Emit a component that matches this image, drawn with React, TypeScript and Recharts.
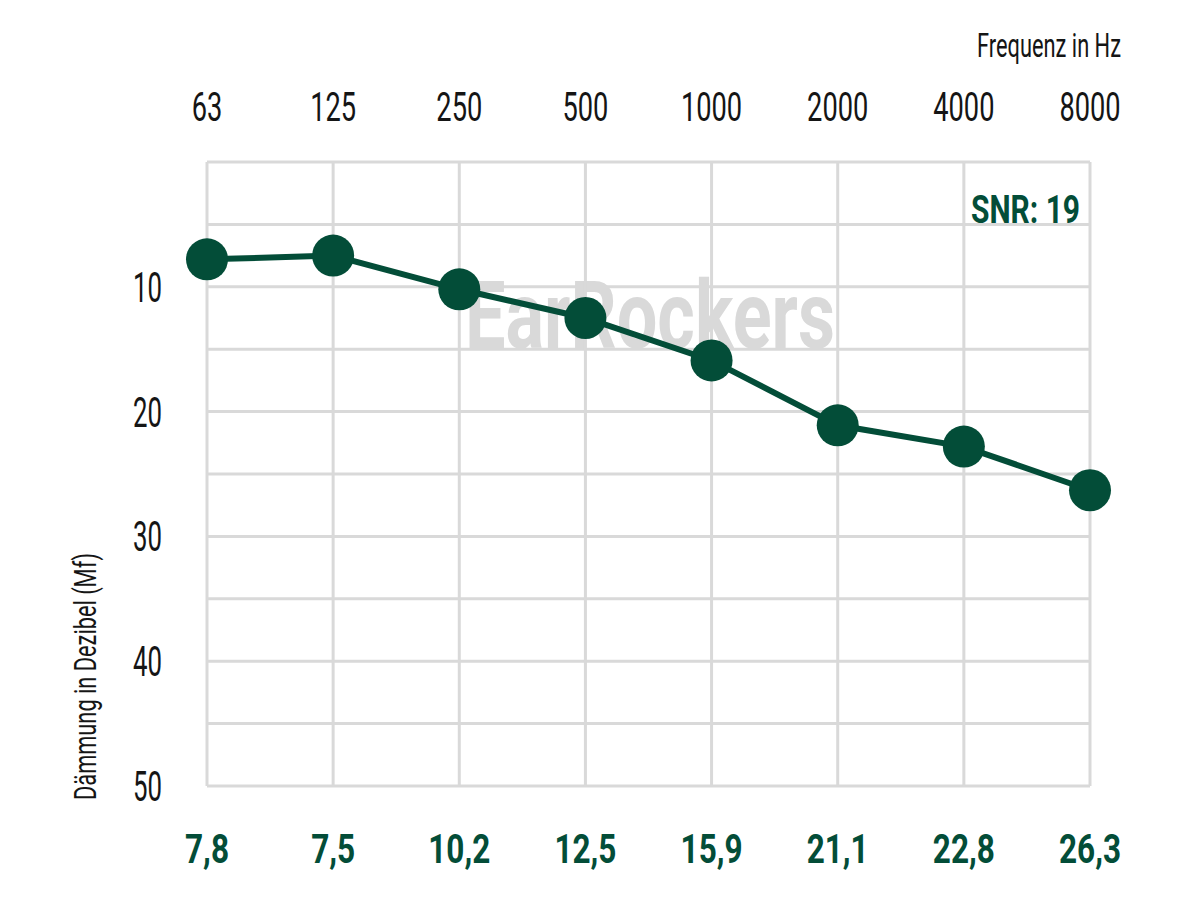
import React from 'react';
import { LineChart, Line, XAxis, YAxis, CartesianGrid } from 'recharts';

const frequencies = ['63', '125', '250', '500', '1000', '2000', '4000', '8000'];
const attenuation = [7.8, 7.5, 10.2, 12.5, 15.9, 21.1, 22.8, 26.3];
const attenuationLabels = ['7,8', '7,5', '10,2', '12,5', '15,9', '21,1', '22,8', '26,3'];
const yTicks = [0, 5, 10, 15, 20, 25, 30, 35, 40, 45, 50];
const yTickLabels: Record<number, string> = { 10: '10', 20: '20', 30: '30', 40: '40', 50: '50' };

const data = frequencies.map((f, i) => ({ freq: f, value: attenuation[i] }));

const GREEN = '#034d38';
const INK = '#151515';
const FONT = "Roboto, 'Noto Sans', sans-serif";

const labelWidth = (s: string, digit: number, comma: number) =>
  s.split('').reduce((w, c) => w + (c === ',' ? comma : digit), 0);

const TopTick = (props: any) => {
  const { x, y, payload } = props;
  const s = String(payload.value);
  return (
    <text
      x={x}
      y={y - 41}
      textAnchor="middle"
      fontSize={40}
      fill={INK}
      fontFamily={FONT}
      textLength={labelWidth(s, 15.3, 0)}
      lengthAdjust="spacingAndGlyphs"
    >
      {s}
    </text>
  );
};

const BottomTick = (props: any) => {
  const { x, y, payload } = props;
  const s = attenuationLabels[payload.index] ?? '';
  return (
    <text
      x={x}
      y={y + 77}
      textAnchor="middle"
      fontSize={41}
      fontWeight="bold"
      fill={GREEN}
      fontFamily={FONT}
      textLength={labelWidth(s, 18, 8)}
      lengthAdjust="spacingAndGlyphs"
    >
      {s}
    </text>
  );
};

const LeftTick = (props: any) => {
  const { x, y, payload } = props;
  const s = yTickLabels[payload.value];
  if (!s) return <g />;
  return (
    <text
      x={x - 45}
      y={y + 15}
      textAnchor="end"
      fontSize={42}
      fill={INK}
      fontFamily={FONT}
      textLength={labelWidth(s, 14.5, 0)}
      lengthAdjust="spacingAndGlyphs"
    >
      {s}
    </text>
  );
};

export default function App() {
  return (
    <div style={{ position: 'absolute', left: 0, top: 0, width: 1200, height: 900, background: '#fff' }}>
      <svg width={1200} height={900} style={{ position: 'absolute', left: 0, top: 0 }}>
        <text
          x={650}
          y={348}
          textAnchor="middle"
          fontSize={94}
          fontWeight="bold"
          fill="#d9d9d9"
          fontFamily={FONT}
          textLength={370}
          lengthAdjust="spacingAndGlyphs"
        >
          EarRockers
        </text>
        <text
          x={1121}
          y={57}
          textAnchor="end"
          fontSize={34}
          fill={INK}
          fontFamily={FONT}
          textLength={144}
          lengthAdjust="spacingAndGlyphs"
        >
          Frequenz in Hz
        </text>
        <text
          x={1080}
          y={223}
          textAnchor="end"
          fontSize={38}
          fontWeight="bold"
          fill={GREEN}
          fontFamily={FONT}
          textLength={109}
          lengthAdjust="spacingAndGlyphs"
        >
          SNR: 19
        </text>
        <text
          transform="translate(96,800) rotate(-90)"
          fontSize={32}
          fill={INK}
          fontFamily={FONT}
          textLength={247}
          lengthAdjust="spacingAndGlyphs"
        >
          Dämmung in Dezibel (Mf)
        </text>
      </svg>
      <div style={{ position: 'absolute', left: 0, top: 0 }}>
        <LineChart width={1200} height={900} data={data} margin={{ top: 0, right: 110, bottom: 0, left: 0 }}>
          <CartesianGrid stroke="#d9d9d9" strokeWidth={3} />
          <XAxis
            dataKey="freq"
            orientation="top"
            height={162}
            axisLine={false}
            tickLine={false}
            tickSize={0}
            tickMargin={0}
            interval={0}
            tick={<TopTick />}
          />
          <XAxis
            xAxisId="bottom"
            dataKey="freq"
            orientation="bottom"
            height={114}
            axisLine={false}
            tickLine={false}
            tickSize={0}
            tickMargin={0}
            interval={0}
            tick={<BottomTick />}
          />
          <YAxis
            type="number"
            domain={[0, 50]}
            reversed
            ticks={yTicks}
            interval={0}
            width={207}
            axisLine={false}
            tickLine={false}
            tickSize={0}
            tickMargin={0}
            tick={<LeftTick />}
          />
          <Line
            type="linear"
            dataKey="value"
            stroke={GREEN}
            strokeWidth={6}
            dot={{ r: 21, fill: GREEN, stroke: 'none' }}
            activeDot={false}
            isAnimationActive={false}
          />
        </LineChart>
      </div>
    </div>
  );
}
